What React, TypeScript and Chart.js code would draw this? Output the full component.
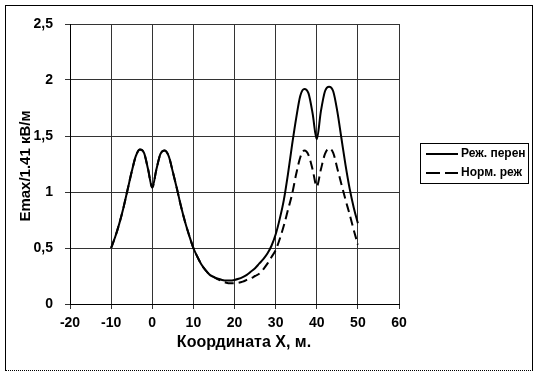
import React, { useEffect, useRef } from "react";
import { Chart, registerables } from "chart.js";

Chart.register(...registerables);

const xCoords = [
  -10, -9, -8, -7, -6, -5, -4, -3, -2, -1, 0, 1, 2, 3, 4, 5, 6, 7, 8, 9, 10,
  11, 12, 13, 14, 15, 16, 17, 18, 19, 20, 21, 22, 23, 24, 25, 26, 27, 28, 29, 30,
  31, 32, 33, 34, 35, 36, 37, 38, 39, 40, 41, 42, 43, 44, 45, 46, 47, 48, 49, 50,
];

const transferMode = [
  0.5, 0.6, 0.72, 0.86, 1.02, 1.18, 1.32, 1.38, 1.35, 1.2, 1.04, 1.2, 1.34, 1.37, 1.32, 1.18, 1.03, 0.87, 0.73, 0.61, 0.5,
  0.42, 0.35, 0.3, 0.26, 0.24, 0.225, 0.215, 0.21, 0.21, 0.215, 0.225, 0.24, 0.26, 0.29, 0.32, 0.36, 0.4, 0.45, 0.52, 0.62,
  0.76, 0.93, 1.16, 1.42, 1.66, 1.86, 1.92, 1.88, 1.7, 1.47, 1.72, 1.9, 1.94, 1.9, 1.72, 1.48, 1.24, 1.03, 0.86, 0.72,
];

const normalMode = [
  0.5, 0.6, 0.72, 0.86, 1.02, 1.18, 1.32, 1.38, 1.35, 1.2, 1.04, 1.2, 1.34, 1.37, 1.32, 1.18, 1.03, 0.87, 0.73, 0.61, 0.5,
  0.42, 0.35, 0.3, 0.26, 0.24, 0.22, 0.205, 0.19, 0.185, 0.185, 0.19, 0.2, 0.215, 0.23, 0.25, 0.27, 0.31, 0.36, 0.42, 0.48,
  0.58, 0.7, 0.84, 0.98, 1.16, 1.31, 1.37, 1.33, 1.2, 1.05, 1.2, 1.34, 1.39, 1.35, 1.21, 1.07, 0.93, 0.8, 0.66, 0.53,
];

const seriesNames = ["Реж. перен", "Норм. реж"];
const xTitle = "Координата X, м.";
const yTitle = "Emax/1.41 кВ/м";

const FONT = "'Liberation Sans', Arial, sans-serif";

const overlayPlugin = {
  id: "overlay",
  afterDraw(chart: any) {
    const ctx = chart.ctx as CanvasRenderingContext2D;
    const area = chart.chartArea;
    ctx.save();
    ctx.fillStyle = "#000";
    ctx.font = `bold 16px ${FONT}`;
    ctx.textAlign = "center";
    ctx.textBaseline = "middle";
    // x title
    ctx.fillText(xTitle, 244, 343);
    // y title
    ctx.font = `bold 15px ${FONT}`;
    ctx.save();
    ctx.translate(26, (area.top + area.bottom) / 2 + 2);
    ctx.rotate(-Math.PI / 2);
    ctx.fillText(yTitle, 0, 0);
    ctx.restore();

    // legend
    ctx.strokeStyle = "#000";
    ctx.lineWidth = 1;
    ctx.strokeRect(420.5, 143.5, 108, 40);
    ctx.lineWidth = 2;
    ctx.beginPath();
    ctx.moveTo(426, 154);
    ctx.lineTo(458, 154);
    ctx.stroke();
    ctx.setLineDash([14, 5]);
    ctx.beginPath();
    ctx.moveTo(426, 173);
    ctx.lineTo(458, 173);
    ctx.stroke();
    ctx.setLineDash([]);
    ctx.font = `bold 12px ${FONT}`;
    ctx.textAlign = "left";
    ctx.fillText(seriesNames[0], 461, 154);
    ctx.fillText(seriesNames[1], 461, 173);
    ctx.restore();
  },
};

export default function App() {
  const ref = useRef<HTMLCanvasElement | null>(null);

  useEffect(() => {
    if (!ref.current) return;
    const chart = new Chart(ref.current, {
      type: "line",
      data: {
        datasets: [
          {
            label: seriesNames[0],
            data: xCoords.map((x, i) => ({ x, y: transferMode[i] })),
            borderColor: "#000",
            borderWidth: 2,
            pointRadius: 0,
            fill: false,
            cubicInterpolationMode: "monotone",
          },
          {
            label: seriesNames[1],
            data: xCoords.map((x, i) => ({ x, y: normalMode[i] })),
            borderColor: "#000",
            borderWidth: 2,
            borderDash: [9, 5],
            pointRadius: 0,
            fill: false,
            cubicInterpolationMode: "monotone",
          },
        ],
      },
      options: {
        animation: false,
        responsive: false,
        devicePixelRatio: 1,
        layout: { padding: { left: 0, top: 24, right: 138, bottom: 0 } },
        plugins: { legend: { display: false }, tooltip: { enabled: false } },
        scales: {
          x: {
            type: "linear",
            min: -20,
            max: 60,
            ticks: {
              stepSize: 10,
              color: "#000",
              font: { family: FONT, size: 14, weight: "bold" },
              padding: 6,
              maxRotation: 0,
            },
            grid: { color: "#333", tickLength: 5, lineWidth: 1 },
            border: { color: "#000" },
            afterFit: (s: any) => {
              s.height = 71;
            },
          },
          y: {
            min: 0,
            max: 2.5,
            ticks: {
              stepSize: 0.5,
              color: "#000",
              font: { family: FONT, size: 14, weight: "bold" },
              padding: 12,
              callback: (v: any) => String(v).replace(".", ","),
            },
            grid: { color: "#333", tickLength: 5, lineWidth: 1 },
            border: { color: "#000" },
            afterFit: (s: any) => {
              s.width = 70;
            },
          },
        },
      },
      plugins: [overlayPlugin],
    });
    return () => chart.destroy();
  }, []);

  return (
    <div style={{ position: "fixed", left: 0, top: 0, width: 537, height: 375, background: "#fff" }}>
      <canvas ref={ref} width={537} height={375} style={{ position: "absolute", left: 0, top: 0 }} />
      <div
        style={{
          position: "absolute",
          left: 5,
          top: 5,
          width: 528,
          height: 366,
          boxSizing: "border-box",
          borderTop: "1px solid #000",
          borderLeft: "1px solid #000",
          borderRight: "1px solid #000",
          borderBottom: "1px dotted #000",
          pointerEvents: "none",
        }}
      />
    </div>
  );
}
